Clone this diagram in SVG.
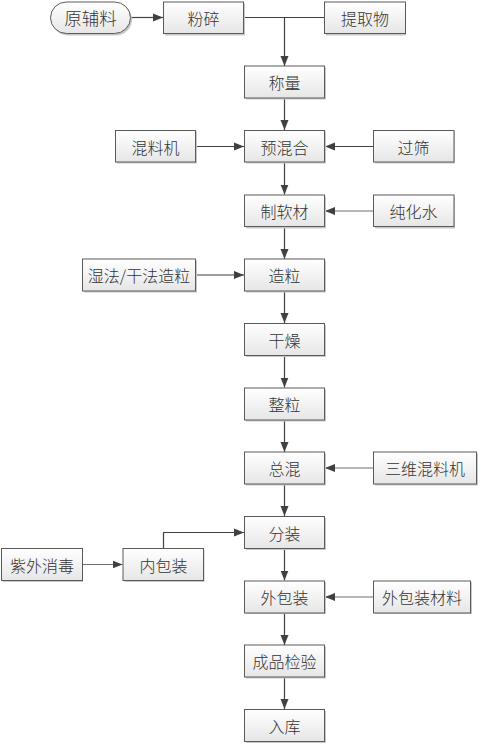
<svg xmlns="http://www.w3.org/2000/svg" width="481" height="746" viewBox="0 0 481 746">
<defs>
<linearGradient id="g" x1="0" y1="0" x2="0" y2="1">
<stop offset="0" stop-color="#ffffff"/>
<stop offset="1" stop-color="#e6e6e6"/>
</linearGradient>
<marker id="a" viewBox="0 0 10 10" refX="10" refY="5" markerWidth="10" markerHeight="10" markerUnits="userSpaceOnUse" orient="auto">
<path d="M0,1 L10,5 L0,9 z" fill="#404040"/>
</marker>
</defs>
<style>
.b{fill:url(#g);stroke:#5a5a5a;stroke-width:1}
.s{fill:#c8c8c8}
text{font-family:"Noto Sans CJK SC","Noto Sans",sans-serif;font-size:16px;font-weight:300;fill:#333;text-anchor:middle;dominant-baseline:central}
.big{font-size:17.5px}
.c{fill:none;stroke:#404040;stroke-width:1.2}
.l{stroke:#707070}
</style>
<rect width="481" height="746" fill="#fff"/>
<g id="connectors">
<path class="c" d="M131,17.5 H163" marker-end="url(#a)"/>
<path class="c" d="M244,17.5 H324"/>
<path class="c" d="M284.5,17.5 V66" marker-end="url(#a)"/>
<path class="c" d="M284.5,98.5 V130" marker-end="url(#a)"/>
<path class="c" d="M196,146.5 H244" marker-end="url(#a)"/>
<path class="c" d="M373,146.5 H325" marker-end="url(#a)"/>
<path class="c" d="M284.5,162.5 V194.5" marker-end="url(#a)"/>
<path class="c l" d="M373,211 H325" marker-end="url(#a)"/>
<path class="c" d="M284.5,227 V259" marker-end="url(#a)"/>
<path class="c" d="M196,275 H244" marker-end="url(#a)"/>
<path class="c" d="M284.5,291 V323" marker-end="url(#a)"/>
<path class="c" d="M284.5,355.5 V387.5" marker-end="url(#a)"/>
<path class="c" d="M284.5,420 V452" marker-end="url(#a)"/>
<path class="c l" d="M373,468 H325" marker-end="url(#a)"/>
<path class="c" d="M284.5,484 V516" marker-end="url(#a)"/>
<path class="c" d="M163.5,548.5 V532.5 H244" marker-end="url(#a)"/>
<path class="c l" d="M82.5,564.5 H122.5" marker-end="url(#a)"/>
<path class="c" d="M284.5,548.5 V580.5" marker-end="url(#a)"/>
<path class="c l" d="M373,597 H325" marker-end="url(#a)"/>
<path class="c" d="M284.5,613 V645" marker-end="url(#a)"/>
<path class="c" d="M284.5,677.5 V709" marker-end="url(#a)"/>
</g>
<g id="n1"><rect class="s" x="52" y="3.5" width="80" height="32" rx="16"/><rect class="b" x="50.5" y="2" width="80" height="31.5" rx="16"/><text class="big" x="90.5" y="17.5">原辅料</text></g>
<g id="n2"><rect class="s" x="165" y="3.5" width="80" height="32"/><rect class="b" x="163.5" y="2" width="80" height="31.5"/><text x="203.5" y="17.5">粉碎</text></g>
<g id="n3"><rect class="s" x="326" y="3.5" width="80" height="32"/><rect class="b" x="324.5" y="2" width="81" height="31.5"/><text x="365" y="17.5">提取物</text></g>
<g id="n4"><rect class="s" x="246" y="67.5" width="80" height="32"/><rect class="b" x="244.5" y="66" width="80" height="32"/><text x="284.5" y="82">称量</text></g>
<g id="n5"><rect class="s" x="117" y="131.5" width="80" height="32"/><rect class="b" x="115.5" y="130.5" width="80" height="31.5"/><text x="155.5" y="146.5">混料机</text></g>
<g id="n6"><rect class="s" x="246" y="131.5" width="80" height="32"/><rect class="b" x="244.5" y="130.5" width="80" height="31.5"/><text x="284.5" y="146.5">预混合</text></g>
<g id="n7"><rect class="s" x="375" y="131.5" width="80" height="32"/><rect class="b" x="373.5" y="130.5" width="80.5" height="31.5"/><text x="413.5" y="146.5">过筛</text></g>
<g id="n8"><rect class="s" x="246" y="196.5" width="80" height="32"/><rect class="b" x="244.5" y="195" width="80" height="31.5"/><text x="284.5" y="211">制软材</text></g>
<g id="n9"><rect class="s" x="375" y="196.5" width="80" height="32"/><rect class="b" x="373.5" y="195" width="80.5" height="31.5"/><text x="413.5" y="211">纯化水</text></g>
<g id="n10"><rect class="s" x="84" y="260.5" width="113" height="32"/><rect class="b" x="82.5" y="259" width="113" height="32"/><text x="139" y="275">湿法/干法造粒</text></g>
<g id="n11"><rect class="s" x="246" y="260.5" width="80" height="32"/><rect class="b" x="244.5" y="259" width="80" height="32"/><text x="284.5" y="275">造粒</text></g>
<g id="n12"><rect class="s" x="246" y="325" width="80" height="32"/><rect class="b" x="244.5" y="323.5" width="80" height="32"/><text x="284.5" y="339.5">干燥</text></g>
<g id="n13"><rect class="s" x="246" y="389.5" width="80" height="32"/><rect class="b" x="244.5" y="388" width="80" height="32"/><text x="284.5" y="404">整粒</text></g>
<g id="n14"><rect class="s" x="246" y="453.5" width="80" height="32"/><rect class="b" x="244.5" y="452" width="80" height="32"/><text x="284.5" y="468">总混</text></g>
<g id="n15"><rect class="s" x="375" y="453.5" width="103" height="32"/><rect class="b" x="373.5" y="452" width="103" height="32"/><text x="425" y="468">三维混料机</text></g>
<g id="n16"><rect class="s" x="246" y="518" width="80" height="32"/><rect class="b" x="244.5" y="516.5" width="80" height="32"/><text x="284.5" y="532.5">分装</text></g>
<g id="n17"><rect class="s" x="3" y="550" width="80" height="32"/><rect class="b" x="1.5" y="548.5" width="81" height="32"/><text x="42" y="564.5">紫外消毒</text></g>
<g id="n18"><rect class="s" x="124.5" y="550" width="80" height="32"/><rect class="b" x="123" y="548.5" width="80.5" height="32"/><text x="163.5" y="564.5">内包装</text></g>
<g id="n19"><rect class="s" x="246" y="582" width="80" height="32"/><rect class="b" x="244.5" y="581" width="80" height="32"/><text x="284.5" y="597">外包装</text></g>
<g id="n20"><rect class="s" x="375" y="582" width="97" height="32"/><rect class="b" x="373.5" y="581" width="97" height="32"/><text x="422" y="597">外包装材料</text></g>
<g id="n21"><rect class="s" x="246" y="646.5" width="80" height="32"/><rect class="b" x="244.5" y="645" width="80" height="32"/><text x="284.5" y="661">成品检验</text></g>
<g id="n22"><rect class="s" x="246" y="711" width="80" height="32"/><rect class="b" x="244.5" y="709.5" width="80" height="32"/><text x="284.5" y="725.5">入库</text></g>
</svg>
